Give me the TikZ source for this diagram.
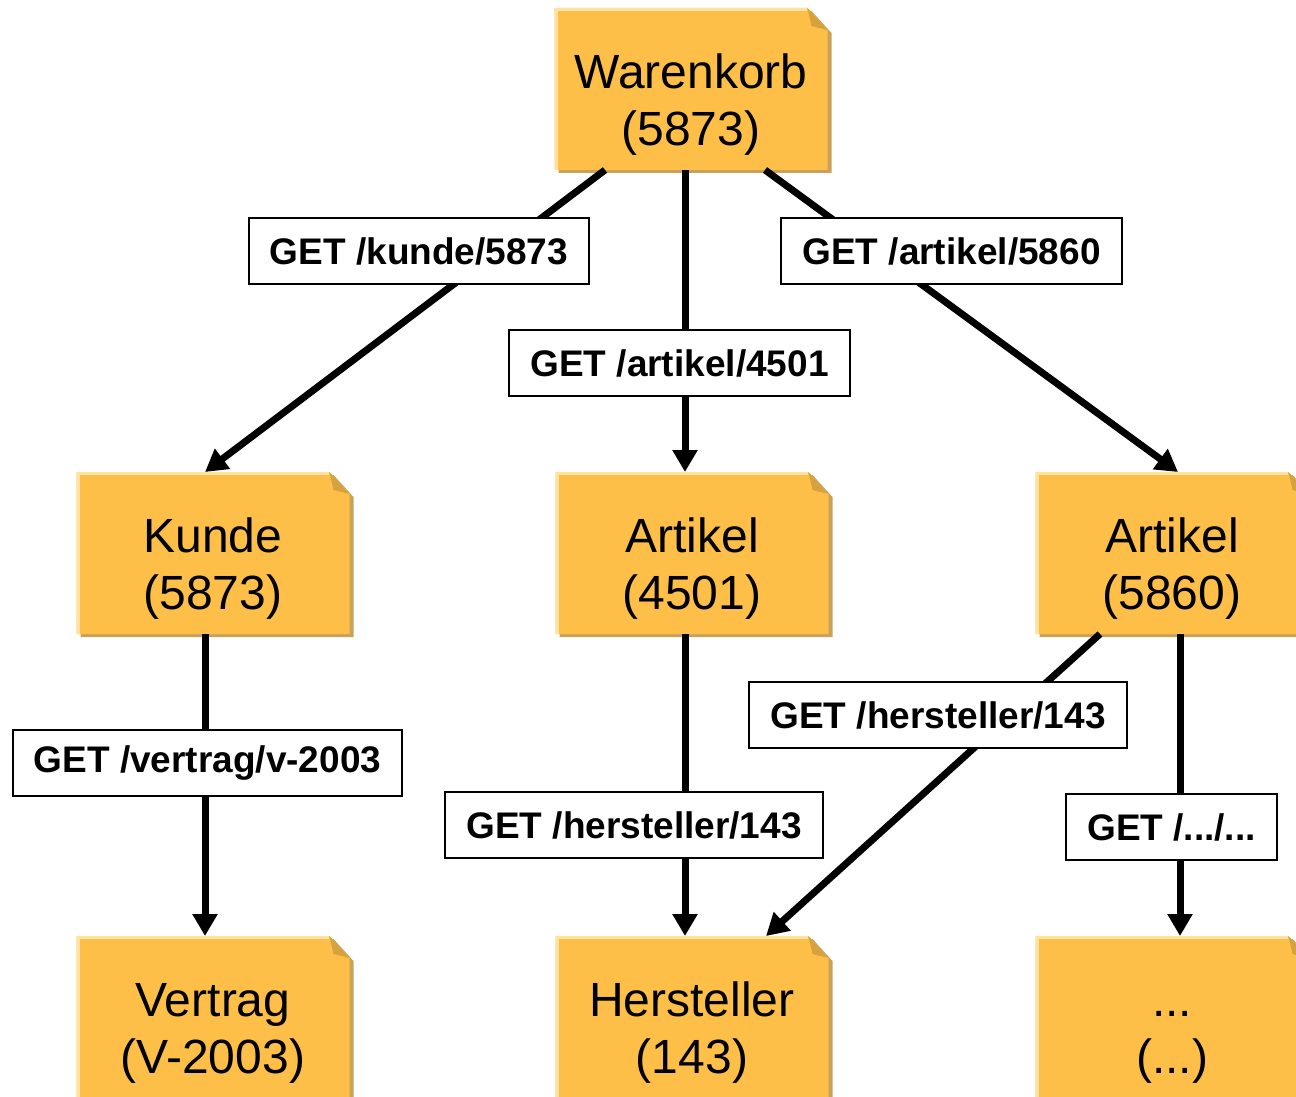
\documentclass[tikz,border=0pt]{standalone}
\usepackage{fontspec}
\setmainfont{Liberation Sans}
\usetikzlibrary{backgrounds,arrows.meta}
\definecolor{docfill}{RGB}{253,191,71}
\definecolor{docshade}{RGB}{201,161,90}
\definecolor{docfold}{RGB}{214,162,62}
\definecolor{docedge}{RGB}{255,226,160}
\newcommand\docstrut{\rule{0pt}{33pt}}
\begin{document}
\begin{tikzpicture}[x=0.5pt,y=-0.5pt,
  doc/.style={rectangle,minimum width=136.5pt,minimum height=81pt,inner sep=0pt,outer sep=0pt,
    align=center,font=\fontsize{24pt}{28.5pt}\selectfont},
  req/.style={draw,line width=1pt,fill=white,inner xsep=10.5pt,minimum height=33pt,
    font=\bfseries\fontsize{18.5pt}{22pt}\selectfont},
  get/.style={line width=3.5pt,-{Triangle[length=11pt,width=12pt]}}]
\useasboundingbox (0,0) rectangle (1296,1097);
\clip (0,0) rectangle (1296,1097);
\node[doc] (war) at (691,89) {\docstrut Warenkorb\\(5873)};
\node[doc] (kun) at (213,553) {\docstrut Kunde\\(5873)};
\node[doc] (art1) at (692,553) {\docstrut Artikel\\(4501)};
\node[doc] (art2) at (1172,553) {\docstrut Artikel\\(5860)};
\node[doc] (ver) at (213,1017) {\docstrut Vertrag\\(V-2003)};
\node[doc] (her) at (692,1017) {\docstrut Hersteller\\(143)};
\node[doc] (etc) at (1172,1017) {\docstrut ...\\(...)};
% Dokumente mit Eselsohr
\begin{scope}[on background layer]
\foreach \n in {war,kun,art1,art2,ver,her,etc}{
  \fill[docshade] ([xshift=2pt,yshift=-1.5pt]\n.north west) -- ([xshift=-8pt,yshift=-1.5pt]\n.north east)
    -- ([xshift=2pt,yshift=-12.5pt]\n.north east) -- ([xshift=2pt,yshift=-1.5pt]\n.south east)
    -- ([xshift=2pt,yshift=-1.5pt]\n.south west) -- cycle;
  \fill[docfill] (\n.north west) -- ([xshift=-10pt]\n.north east) -- ([yshift=-11pt]\n.north east)
    -- (\n.south east) -- (\n.south west) -- cycle;
  \draw[docedge,line width=1.5pt] ([xshift=.75pt]\n.south west) -- ([xshift=.75pt,yshift=-.75pt]\n.north west)
    -- ([xshift=-10.5pt,yshift=-.75pt]\n.north east);
  \fill[docfold] ([xshift=-10pt]\n.north east) -- ([xshift=-8pt,yshift=-9pt]\n.north east)
    -- ([yshift=-11pt]\n.north east) -- cycle;
}
\end{scope}
\draw[get] ([xshift=-43pt]war.south) -- ([xshift=-4pt]kun.north);
\draw[get] ([xshift=-3pt]war.south) -- ([xshift=-3.5pt]art1.north);
\draw[get] ([xshift=37pt]war.south) -- ([xshift=3pt]art2.north);
\draw[get] ([xshift=-4pt]kun.south) -- ([xshift=-4pt]ver.north);
\draw[get] ([xshift=-3.5pt]art1.south) -- ([xshift=-3.5pt]her.north);
\draw[get] ([xshift=-36pt]art2.south) -- ([xshift=37pt]her.north);
\draw[get] ([xshift=4pt]art2.south) -- ([xshift=4pt]etc.north);
\node[req] (r1) at (419,251) {GET /kunde/5873};
\node[req] (r2) at (679.5,363) {GET /artikel/4501};
\node[req] (r3) at (951.5,251) {GET /artikel/5860};
\node[req] (r4) at (207.5,763) {GET /vertrag/v-2003};
\node[req] (r5) at (634,825) {GET /hersteller/143};
\node[req] (r6) at (938,715) {GET /hersteller/143};
\node[req] (r7) at (1171.5,827) {GET /.../...};
\end{tikzpicture}
\end{document}
